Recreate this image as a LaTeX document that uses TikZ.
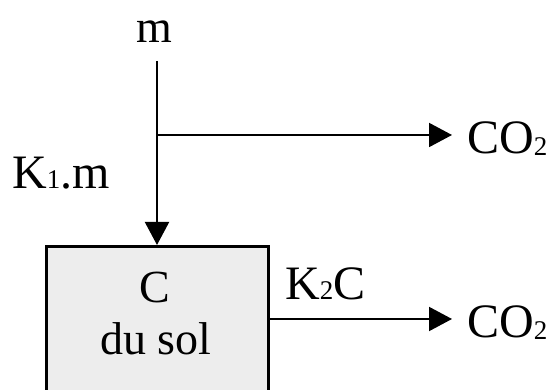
\documentclass[tikz,border=0pt]{standalone}
\usepackage{fontspec}
\setmainfont{Liberation Serif}
\usetikzlibrary{arrows.meta}
\newcommand{\ind}[1]{{\fontsize{27}{27}\selectfont #1}}

\begin{document}
\begin{tikzpicture}[x=1pt,y=1pt,
  every node/.style={inner sep=0pt,font=\fontsize{46}{52}\selectfont},
  big/.style={font=\fontsize{48}{52}\selectfont},
  flow/.style={line width=2pt,-{Triangle[length=23pt,width=24pt]}},
  gas/.style={big,anchor=west,inner xsep=15pt,text height=38pt,text depth=0pt},
  soil/.style={draw,line width=3pt,fill=black!7,minimum width=222pt,minimum height=200pt,anchor=north}]
\useasboundingbox(0,0)rectangle(552,390);\clip(0,0)rectangle(552,390);
\node[soil](sol)at(157,145){};
\node[anchor=base](c)at(155,87){C};
\node[anchor=base](dusol)at(156,35){du sol};
\node[anchor=base](m)at(154,347){m};
\coordinate(top)at(157,329);\coordinate(split)at(157,255);
\node[gas](co2a)at(452,255){CO\raisebox{-2pt}{\ind{2}}};
\node[gas](co2b)at(452,71){CO\raisebox{-2pt}{\ind{2}}};
\node[big,anchor=base west](k1)at(12,201){K\ind{1}.m};
\node[big,anchor=base west](k2)at(285,90){K\ind{2}C};
\draw[flow](top)--(sol.north);
\draw[flow](split)--(co2a.west);
\draw[flow](sol.east|-co2b.west)--(co2b.west);
\end{tikzpicture}
\end{document}
